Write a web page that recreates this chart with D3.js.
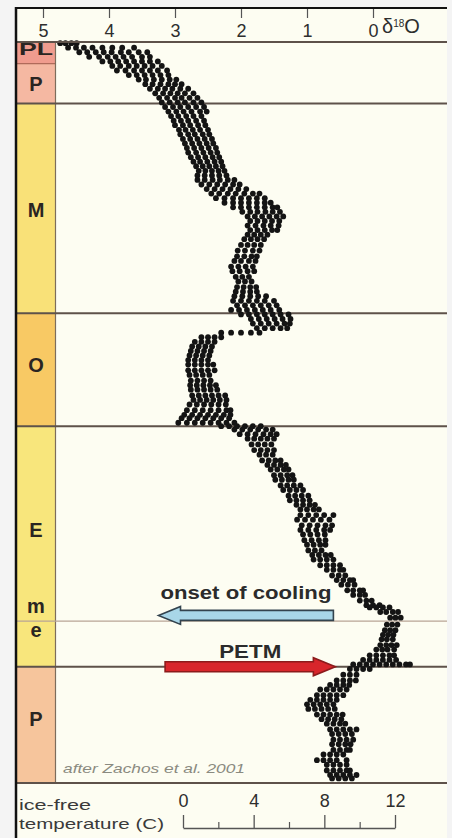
<!DOCTYPE html>
<html lang="en">

<head>
  <meta charset="UTF-8">
  <title>d18O Cenozoic</title>
  <style>
    * {
      box-sizing: border-box;
    }

    html,
    body {
      margin: 0;
      padding: 0;
      background: #f4f4f4;
    }

    #main {
      width: 452px;
      height: 838px;
    }

    svg {
      display: block;
      font-family: "Liberation Sans", Arial, sans-serif;
    }
  </style>
</head>

<body>
  <div id="main"></div>
  <script src="https://d3js.org/d3.v7.min.js"></script>
  <script>
    // 1. data
    // top axis (d18O, per mil) and bottom axis (ice-free temperature, C)
    const d18OTicks = [5, 4, 3, 2, 1, 0]
    const tempTicks = [0, 4, 8, 12]
    const tempMinorTicks = [2, 6, 10]

    // epochs: names and boundaries in Ma
    const epochNames = ['PL', 'P', 'M', 'O', 'E', 'P']
    const epochBounds = [0, 1.9, 5.4, 23.8, 33.7, 54.8, 65]
    const stageLine = 50.8 // early / middle Eocene
    const stripLabels = ['PL', 'P', 'M', 'O', 'E', 'm', 'e', 'P']
    const stripLabelAges = [0.6, 3.7, 14.7, 28.3, 42.8, 49.6, 51.7, 59.4]

    // annotations
    const arrowLabels = ['onset of cooling', 'PETM']
    const arrowFrom = [0.6, 3.15]
    const arrowTo = [3.25, 0.57]
    const arrowAges = [50.3, 54.8]
    const arrowLabelAges = [48.9, 54.0]

    // d18O samples: [age Ma, [values at that level]]
    const pleistPliocene = [
      [0.1, [4.74, 4.66, 4.57, 4.49]],
      [0.5, [4.62, 4.5, 4.38, 4.25, 4.1, 3.95, 3.8, 3.62]],
      [0.9, [4.45, 4.33, 4.2, 4.08, 3.96, 3.82, 3.7, 3.55, 3.42]],
      [1.3, [4.3, 4.15, 4.02, 3.9, 3.78, 3.65, 3.5, 3.38]],
      [1.7, [4.1, 3.98, 3.86, 3.74, 3.62, 3.5, 3.38, 3.26]],
      [2.1, [3.95, 3.83, 3.7, 3.58, 3.46, 3.34, 3.2]],
      [2.5, [3.88, 3.75, 3.62, 3.5, 3.38, 3.26, 3.12]],
      [2.9, [3.7, 3.58, 3.46, 3.34, 3.22, 3.1]],
      [3.3, [3.55, 3.44, 3.32, 3.2, 3.08, 2.98]],
      [3.7, [3.45, 3.34, 3.22, 3.1, 3.0, 2.9]],
      [4.1, [3.38, 3.26, 3.15, 3.04, 2.92, 2.8]],
      [4.5, [3.3, 3.18, 3.07, 2.96, 2.85, 2.72]],
      [4.9, [3.24, 3.12, 3.0, 2.9, 2.78, 2.66]],
      [5.3, [3.2, 3.08, 2.96, 2.85, 2.72, 2.6]]
    ]

    const miocene = [
      [5.7, [3.15, 3.03, 2.92, 2.8, 2.68, 2.56]],
      [6.1, [3.1, 2.98, 2.87, 2.75, 2.62, 2.52]],
      [6.5, [3.06, 2.95, 2.83, 2.72, 2.6]],
      [6.9, [3.02, 2.91, 2.8, 2.68, 2.56]],
      [7.3, [3.0, 2.88, 2.77, 2.65, 2.54]],
      [7.7, [2.94, 2.84, 2.73, 2.62, 2.5]],
      [8.1, [2.92, 2.8, 2.7, 2.58, 2.48]],
      [8.5, [2.88, 2.77, 2.66, 2.55, 2.44]],
      [8.9, [2.85, 2.74, 2.63, 2.52, 2.42]],
      [9.3, [2.82, 2.71, 2.6, 2.49, 2.38]],
      [9.7, [2.8, 2.68, 2.57, 2.46, 2.36]],
      [10.1, [2.76, 2.65, 2.54, 2.43, 2.33]],
      [10.5, [2.72, 2.62, 2.51, 2.4, 2.3]],
      [10.9, [2.68, 2.58, 2.48, 2.38, 2.28]],
      [11.3, [2.64, 2.54, 2.44, 2.34, 2.25]],
      [11.7, [2.66, 2.55, 2.44, 2.33, 2.22]],
      [12.1, [2.66, 2.55, 2.43, 2.32, 2.2, 2.1]],
      [12.5, [2.6, 2.48, 2.36, 2.24, 2.12, 2.02]],
      [12.9, [2.52, 2.4, 2.28, 2.16, 2.04, 1.92]],
      [13.3, [2.45, 2.33, 2.2, 2.08, 1.95, 1.82, 1.72]],
      [13.7, [2.38, 2.25, 2.12, 2.0, 1.88, 1.76, 1.64]],
      [14.1, [2.25, 2.12, 2.0, 1.88, 1.76, 1.64, 1.55]],
      [14.5, [2.12, 2.0, 1.88, 1.76, 1.64, 1.52, 1.45]],
      [14.9, [1.98, 1.86, 1.75, 1.63, 1.52, 1.41]],
      [15.3, [1.9, 1.79, 1.68, 1.57, 1.46, 1.36]],
      [15.7, [1.86, 1.75, 1.64, 1.53, 1.42]],
      [16.1, [1.9, 1.78, 1.66, 1.55, 1.43]],
      [16.5, [1.86, 1.75, 1.64, 1.53, 1.45]],
      [16.9, [1.9, 1.8, 1.7, 1.6]],
      [17.3, [1.95, 1.85, 1.75, 1.65]],
      [17.8, [2.0, 1.9, 1.8, 1.7]],
      [18.3, [2.05, 1.94, 1.82, 1.72]],
      [18.8, [2.06, 1.95, 1.84, 1.76]],
      [19.2, [2.1, 2.0, 1.88, 1.78]],
      [19.7, [2.15, 2.04, 1.93, 1.82]],
      [20.1, [2.13, 2.02, 1.9, 1.8]],
      [20.6, [2.08, 1.98, 1.88]],
      [21.0, [2.04, 1.94, 1.84]],
      [21.5, [2.06, 1.96, 1.86, 1.77]],
      [21.9, [2.08, 1.97, 1.86, 1.76]],
      [22.3, [2.1, 1.98, 1.86, 1.74, 1.62]],
      [22.7, [2.12, 2.0, 1.88, 1.76, 1.64, 1.5]],
      [23.1, [2.06, 1.94, 1.82, 1.7, 1.58, 1.46]],
      [23.5, [2.15, 2.03, 1.91, 1.79, 1.67, 1.55, 1.42]]
    ]

    const oligocene = [
      [23.9, [2.0, 1.88, 1.76, 1.64, 1.52, 1.4, 1.28]],
      [24.3, [1.85, 1.73, 1.61, 1.49, 1.37, 1.25]],
      [24.7, [1.82, 1.7, 1.58, 1.46, 1.34, 1.26]],
      [25.1, [1.76, 1.64, 1.52, 1.4, 1.3]],
      [25.5, [2.3, 2.15, 2.0, 1.85, 1.72]],
      [25.9, [2.6, 2.5, 2.4, 2.3]],
      [26.3, [2.7, 2.6, 2.5, 2.4]],
      [26.7, [2.74, 2.64, 2.54, 2.44]],
      [27.1, [2.76, 2.66, 2.56, 2.46]],
      [27.5, [2.78, 2.68, 2.58, 2.48]],
      [27.9, [2.8, 2.7, 2.6, 2.5]],
      [28.3, [2.8, 2.7, 2.6, 2.5, 2.42]],
      [28.8, [2.8, 2.7, 2.6, 2.5, 2.4]],
      [29.2, [2.78, 2.68, 2.58, 2.48]],
      [29.7, [2.76, 2.66, 2.56, 2.46]],
      [30.1, [2.77, 2.67, 2.57, 2.47, 2.38]],
      [30.5, [2.76, 2.66, 2.56, 2.46, 2.36]],
      [31.0, [2.74, 2.64, 2.54, 2.44, 2.34, 2.24]],
      [31.4, [2.72, 2.62, 2.52, 2.42, 2.32, 2.22]],
      [31.8, [2.78, 2.67, 2.56, 2.45, 2.34, 2.23]],
      [32.3, [2.82, 2.7, 2.58, 2.46, 2.34, 2.22, 2.16]],
      [32.7, [2.86, 2.74, 2.62, 2.5, 2.38, 2.26, 2.16]],
      [33.0, [2.9, 2.78, 2.66, 2.54, 2.42, 2.3, 2.18]],
      [33.4, [2.95, 2.82, 2.7, 2.58, 2.46, 2.34, 2.22, 2.1]]
    ]

    const eocene = [
      [33.7, [2.3, 2.18, 2.06, 1.94, 1.82, 1.7]],
      [34.0, [2.1, 1.98, 1.86, 1.74, 1.62, 1.52]],
      [34.4, [2.02, 1.9, 1.78, 1.66, 1.55, 1.46]],
      [34.8, [1.9, 1.8, 1.7, 1.6, 1.5]],
      [35.3, [1.84, 1.74, 1.64, 1.54]],
      [35.8, [1.8, 1.7, 1.6, 1.5]],
      [36.2, [1.72, 1.62, 1.52]],
      [36.7, [1.68, 1.58, 1.48, 1.4]],
      [37.1, [1.6, 1.5, 1.4, 1.32]],
      [37.5, [1.55, 1.45, 1.35, 1.28]],
      [38.0, [1.5, 1.4, 1.3, 1.22]],
      [38.4, [1.48, 1.38, 1.28, 1.2]],
      [38.9, [1.4, 1.3, 1.2, 1.1]],
      [39.3, [1.36, 1.26, 1.16, 1.06]],
      [39.8, [1.28, 1.18, 1.08, 0.98]],
      [40.2, [1.26, 1.16, 1.06, 0.96]],
      [40.6, [1.16, 1.06, 0.96, 0.88]],
      [41.0, [1.1, 1.0, 0.9, 0.82]],
      [41.5, [1.1, 0.98, 0.86, 0.74, 0.6]],
      [41.9, [1.15, 1.03, 0.91, 0.79, 0.66]],
      [42.4, [1.08, 0.96, 0.84, 0.72, 0.62]],
      [42.8, [1.1, 0.98, 0.86, 0.74, 0.65]],
      [43.2, [1.06, 0.95, 0.84, 0.73]],
      [43.7, [1.04, 0.93, 0.82, 0.72]],
      [44.1, [1.0, 0.9, 0.8, 0.72]],
      [44.6, [0.98, 0.88, 0.78]],
      [45.0, [0.92, 0.82, 0.72, 0.64]],
      [45.4, [0.9, 0.8, 0.7, 0.6]],
      [45.9, [0.8, 0.7, 0.6, 0.5]],
      [46.3, [0.7, 0.6, 0.5, 0.45]],
      [46.8, [0.62, 0.52, 0.42]],
      [47.2, [0.55, 0.45, 0.35, 0.3]],
      [47.6, [0.48, 0.38, 0.28]],
      [48.1, [0.39, 0.3, 0.2, 0.15]],
      [48.5, [0.3, 0.2, 0.12]],
      [49.0, [0.2, 0.1, 0.02]],
      [49.4, [0.1, 0.0, -0.1]],
      [49.6, [0.05, -0.05, -0.15, -0.25]],
      [50.0, [-0.11, -0.2, -0.3, -0.38]],
      [50.5, [-0.26, -0.34, -0.42]],
      [51.1, [-0.21, -0.29, -0.37]],
      [51.6, [-0.18, -0.26, -0.34]],
      [52.0, [-0.15, -0.23, -0.31]],
      [52.4, [-0.13, -0.21, -0.3]],
      [52.9, [-0.11, -0.2, -0.28, -0.36]],
      [53.3, [-0.05, -0.14, -0.22, -0.32]],
      [53.8, [0.05, -0.05, -0.15, -0.25, -0.32]],
      [54.2, [0.15, 0.05, -0.05, -0.15, -0.25, -0.35]],
      [54.6, [0.3, 0.2, 0.1, 0.0, -0.1, -0.2, -0.3, -0.4, -0.5, -0.56]]
    ]

    const paleocene = [
      [55.0, [0.35, 0.25, 0.15, 0.05]],
      [55.5, [0.45, 0.35, 0.25]],
      [56.0, [0.55, 0.45, 0.35, 0.26]],
      [56.4, [0.65, 0.55, 0.45, 0.36]],
      [56.8, [0.8, 0.7, 0.6, 0.5, 0.4]],
      [57.3, [0.85, 0.75, 0.65, 0.55, 0.45]],
      [57.7, [0.95, 0.85, 0.75, 0.65, 0.55]],
      [58.1, [1.0, 0.9, 0.8, 0.7, 0.6]],
      [58.5, [0.98, 0.88, 0.78, 0.68, 0.58]],
      [59.0, [0.85, 0.75, 0.65, 0.55, 0.46]],
      [59.4, [0.78, 0.68, 0.58, 0.48]],
      [59.8, [0.7, 0.6, 0.5, 0.42]],
      [60.3, [0.65, 0.55, 0.45, 0.35, 0.25]],
      [60.7, [0.62, 0.52, 0.42, 0.32]],
      [61.2, [0.6, 0.5, 0.4, 0.3]],
      [61.6, [0.62, 0.52, 0.42, 0.34]],
      [62.1, [0.6, 0.5, 0.4, 0.35]],
      [62.5, [0.75, 0.65, 0.55, 0.45]],
      [63.0, [0.85, 0.75, 0.65, 0.55, 0.4]],
      [63.4, [0.7, 0.6, 0.5, 0.4]],
      [63.9, [0.7, 0.6, 0.5, 0.4, 0.35]],
      [64.3, [0.65, 0.55, 0.45, 0.35, 0.25]],
      [64.6, [0.62, 0.52, 0.42, 0.32]]
    ]

    // 2. container
    const [width, height] = [452, 838]
    const svg = d3.select('#main').append('svg')
      .attr('width', width)
      .attr('height', height)
      .attr('viewBox', `0 0 ${width} ${height}`)

    // 3. scales
    const x = d3.scaleLinear().domain([5, 0]).range([43, 373])
    const y = d3.scaleLinear().domain([0, 65]).range([42, 783])
    const t = d3.scaleLinear().domain([0, 12]).range([183, 395])

    const left = 16, right = 447, stripRight = 55
    const epochColors = ['#f09c8e', '#f5b8a2', '#f9e178', '#f8c964', '#f8e67c', '#f6c59c']
    const lineColor = '#5e524a'

    // paper
    svg.append('rect')
      .attr('x', left).attr('y', 8)
      .attr('width', right - left).attr('height', height - 8)
      .attr('fill', '#fdfdf2')

    // 4. epoch strip
    svg.append('g').selectAll('rect')
      .data(epochNames)
      .join('rect')
      .attr('x', left)
      .attr('width', stripRight - left)
      .attr('y', (d, i) => y(epochBounds[i]))
      .attr('height', (d, i) => y(epochBounds[i + 1]) - y(epochBounds[i]))
      .attr('fill', (d, i) => epochColors[i])

    svg.append('line')
      .attr('x1', left).attr('x2', stripRight)
      .attr('y1', y(epochBounds[1])).attr('y2', y(epochBounds[1]))
      .attr('stroke', '#b06a5a').attr('stroke-width', 1.2)

    svg.append('line')
      .attr('x1', stripRight + 0.5).attr('x2', stripRight + 0.5)
      .attr('y1', y(0)).attr('y2', y(65))
      .attr('stroke', '#7d6d5c').attr('stroke-width', 1.2)

    svg.append('g').selectAll('text')
      .data(stripLabels)
      .join('text')
      .attr('x', 36)
      .attr('y', (d, i) => y(stripLabelAges[i]))
      .attr('dy', d => d === 'm' || d === 'e' ? '0.3em' : '0.36em')
      .attr('text-anchor', 'middle')
      .attr('font-weight', 'bold')
      .attr('font-size', d => d === 'PL' ? 17 : 20)
      .attr('fill', '#2a2522')
      .attr('textLength', d => d === 'PL' ? 34 : null)
      .attr('lengthAdjust', 'spacingAndGlyphs')
      .text(d => d)

    // boundary lines
    svg.append('g').selectAll('line')
      .data(epochBounds.slice(2, 6))
      .join('line')
      .attr('x1', left).attr('x2', right)
      .attr('y1', d => y(d)).attr('y2', d => y(d))
      .attr('stroke', lineColor).attr('stroke-width', 2)

    svg.append('line')
      .attr('x1', left).attr('x2', right)
      .attr('y1', y(stageLine)).attr('y2', y(stageLine))
      .attr('stroke', '#b8a496').attr('stroke-width', 1.2)

    // 5. d18O points
    const points = [pleistPliocene, miocene, oligocene, eocene, paleocene]
      .flat()
      .flatMap(([age, vals]) => vals.map(v => ({ age, v })))

    svg.append('g').selectAll('circle')
      .data(points)
      .join('circle')
      .attr('cx', d => x(d.v))
      .attr('cy', d => y(d.age))
      .attr('r', 2.9)
      .attr('fill', '#141414')

    // 6. arrows
    const arrowFill = ['#a8d6e8', '#d8262b']
    const arrowStroke = ['#33434e', '#8c1b1b']
    const arrowPath = (x0, x1, yc) => {
      const dir = Math.sign(x1 - x0)
      const hx = x1 - dir * 22
      return `M${x0},${yc - 5}L${hx},${yc - 5}L${hx},${yc - 9}L${x1},${yc}` +
        `L${hx},${yc + 9}L${hx},${yc + 5}L${x0},${yc + 5}Z`
    }

    svg.append('g').selectAll('path')
      .data(arrowLabels)
      .join('path')
      .attr('d', (d, i) => arrowPath(x(arrowFrom[i]), x(arrowTo[i]), y(arrowAges[i])))
      .attr('fill', (d, i) => arrowFill[i])
      .attr('stroke', (d, i) => arrowStroke[i])
      .attr('stroke-width', 1.6)

    svg.append('g').selectAll('text')
      .data(arrowLabels)
      .join('text')
      .attr('x', (d, i) => (x(arrowFrom[i]) + x(arrowTo[i])) / 2)
      .attr('y', (d, i) => y(arrowLabelAges[i]))
      .attr('text-anchor', 'middle')
      .attr('font-weight', 'bold')
      .attr('font-size', 18)
      .attr('fill', '#2b2b2b')
      .attr('textLength', (d, i) => i === 0 ? 171 : 62)
      .attr('lengthAdjust', 'spacingAndGlyphs')
      .text(d => d)

    svg.append('text')
      .attr('x', 63).attr('y', 773)
      .attr('font-style', 'italic')
      .attr('font-size', 13)
      .attr('fill', '#8a8a80')
      .attr('textLength', 182)
      .attr('lengthAdjust', 'spacingAndGlyphs')
      .text('after Zachos et al. 2001')

    // 7. top axis (d18O)
    const topAxis = svg.append('g')
      .attr('transform', 'translate(0, 9)')
      .call(d3.axisBottom(x).tickValues(d18OTicks).tickSize(9).tickPadding(6).tickFormat(d3.format('d')))
    topAxis.select('.domain').remove()
    topAxis.selectAll('line').attr('stroke', '#555').attr('stroke-width', 1.2)
    topAxis.selectAll('text')
      .style('font-size', '18px')
      .style('font-family', '"Liberation Sans", Arial, sans-serif')
      .attr('fill', '#2e2e2e')

    const isoLabel = svg.append('text')
      .attr('x', 382).attr('y', 33)
      .attr('font-size', 20)
      .attr('fill', '#2e2e2e')
    isoLabel.append('tspan').text('δ')
    isoLabel.append('tspan').attr('font-size', 10).attr('dy', -6).text('18')
    isoLabel.append('tspan').attr('dy', 6).text('O')

    // 8. bottom axis (temperature)
    const bottomAxis = svg.append('g')
      .attr('transform', 'translate(0, 828)')
      .call(d3.axisTop(t).tickValues(tempTicks).tickSize(13).tickSizeOuter(0).tickPadding(8))
    bottomAxis.selectAll('line, path').attr('stroke', '#555').attr('stroke-width', 1.3)
    bottomAxis.selectAll('text')
      .style('font-size', '18px')
      .style('font-family', '"Liberation Sans", Arial, sans-serif')
      .attr('fill', '#2e2e2e')

    const minorAxis = svg.append('g')
      .attr('transform', 'translate(0, 828)')
      .call(d3.axisTop(t).tickValues(tempMinorTicks).tickSize(6).tickFormat(''))
    minorAxis.select('.domain').remove()
    minorAxis.selectAll('line').attr('stroke', '#555').attr('stroke-width', 1.2)

    svg.append('text')
      .attr('x', 19).attr('y', 810)
      .attr('font-size', 15)
      .attr('fill', '#3a3a3a')
      .attr('textLength', 72)
      .attr('lengthAdjust', 'spacingAndGlyphs')
      .text('ice-free')
    svg.append('text')
      .attr('x', 19).attr('y', 829)
      .attr('font-size', 15)
      .attr('fill', '#3a3a3a')
      .attr('textLength', 145)
      .attr('lengthAdjust', 'spacingAndGlyphs')
      .text('temperature (C)')

    // 9. frame
    svg.append('line')
      .attr('x1', left).attr('x2', right)
      .attr('y1', y(0)).attr('y2', y(0))
      .attr('stroke', lineColor).attr('stroke-width', 2)
    svg.append('line')
      .attr('x1', left).attr('x2', right)
      .attr('y1', y(65)).attr('y2', y(65))
      .attr('stroke', lineColor).attr('stroke-width', 2)
    svg.append('line')
      .attr('x1', left - 1).attr('x2', right)
      .attr('y1', 8).attr('y2', 8)
      .attr('stroke', '#111').attr('stroke-width', 2)
    svg.append('line')
      .attr('x1', left).attr('x2', left)
      .attr('y1', 7).attr('y2', height)
      .attr('stroke', '#111').attr('stroke-width', 2.5)
  </script>
</body>

</html>
